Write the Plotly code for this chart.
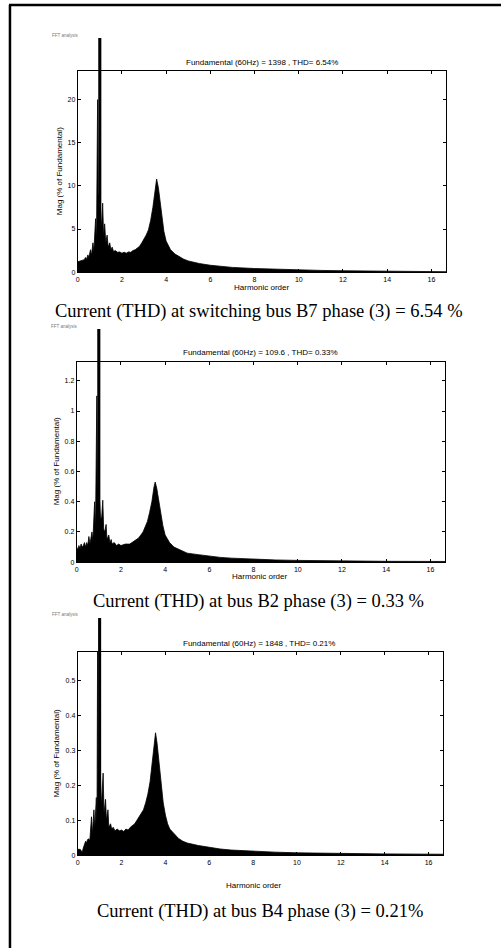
import plotly.graph_objects as go

W, H = 501, 951

# ---------------- data ----------------
harm_1 = [0.0, 0.1, 0.2, 0.3, 0.35, 0.4, 0.46, 0.5, 0.58, 0.62, 0.69, 0.73, 0.81, 0.85, 0.9, 0.93, 1.0, 1.08, 1.13, 1.17,
          1.22, 1.27, 1.33, 1.38, 1.45, 1.5, 1.56, 1.62, 1.7, 1.8, 1.9, 2.0, 2.1, 2.2, 2.3, 2.4, 2.5, 2.6, 2.7, 2.8,
          2.9, 3.0, 3.1, 3.2, 3.3, 3.4, 3.5, 3.57, 3.65, 3.7, 3.8, 3.9, 4.0, 4.1, 4.2, 4.4, 4.6, 4.8, 5.0, 5.5,
          6.0, 6.5, 7.0, 8.0, 9.0, 10.0, 11.0, 12.0, 13.0, 14.0, 15.0, 16.67]
mag_1 = [1.2, 1.3, 1.35, 1.45, 1.7, 1.5, 2.0, 1.7, 2.6, 1.9, 3.4, 2.4, 6.2, 3.6, 20.0, 9.0, 9.0, 5.0, 8.0, 4.2,
         5.6, 3.4, 4.3, 2.9, 3.4, 2.6, 2.9, 2.4, 2.5, 2.3, 2.35, 2.2, 2.3, 2.2, 2.35, 2.3, 2.5, 2.6, 2.8, 3.0,
         3.4, 3.8, 4.3, 4.9, 6.0, 7.5, 9.5, 10.8, 9.8, 8.8, 6.5, 4.7, 3.6, 3.0, 2.6, 2.1, 1.8, 1.5, 1.3, 1.0,
         0.8, 0.65, 0.55, 0.42, 0.32, 0.26, 0.2, 0.16, 0.12, 0.09, 0.07, 0.05]

harm_2 = [0.0, 0.05, 0.1, 0.15, 0.2, 0.25, 0.3, 0.35, 0.4, 0.45, 0.5, 0.55, 0.6, 0.69, 0.73, 0.81, 0.85, 0.91, 0.94, 1.0,
          1.08, 1.13, 1.18, 1.22, 1.27, 1.33, 1.37, 1.45, 1.5, 1.56, 1.6, 1.7, 1.8, 1.9, 2.0, 2.2, 2.4, 2.6, 2.8, 3.0,
          3.2, 3.3, 3.4, 3.5, 3.55, 3.62, 3.7, 3.8, 3.9, 4.0, 4.1, 4.2, 4.4, 4.6, 4.8, 5.0, 5.5, 6.0, 6.5, 7.0,
          8.0, 9.0, 10.0, 11.0, 12.0, 14.0, 16.67]
mag_2 = [0.10, 0.08, 0.11, 0.09, 0.12, 0.10, 0.11, 0.13, 0.10, 0.13, 0.11, 0.17, 0.12, 0.20, 0.14, 0.40, 0.22, 1.10, 0.50, 0.50,
         0.28, 0.30, 0.41, 0.22, 0.20, 0.25, 0.15, 0.18, 0.13, 0.15, 0.12, 0.13, 0.11, 0.12, 0.11, 0.12, 0.12, 0.14, 0.16, 0.20,
         0.27, 0.33, 0.40, 0.50, 0.53, 0.49, 0.42, 0.31, 0.24, 0.18, 0.15, 0.13, 0.10, 0.085, 0.07, 0.06, 0.05, 0.04, 0.032, 0.027,
         0.02, 0.015, 0.012, 0.01, 0.008, 0.006, 0.005]

harm_3 = [0.0, 0.05, 0.1, 0.15, 0.21, 0.25, 0.3, 0.36, 0.4, 0.45, 0.51, 0.55, 0.63, 0.67, 0.74, 0.78, 0.85, 0.88, 0.91, 0.94,
          1.0, 1.08, 1.16, 1.2, 1.27, 1.31, 1.38, 1.42, 1.5, 1.55, 1.62, 1.7, 1.8, 1.9, 2.0, 2.1, 2.2, 2.3, 2.4, 2.5,
          2.6, 2.7, 2.8, 2.9, 3.0, 3.1, 3.2, 3.3, 3.4, 3.5, 3.55, 3.62, 3.7, 3.8, 3.9, 4.0, 4.1, 4.2, 4.4, 4.6,
          4.8, 5.0, 5.5, 6.0, 6.5, 7.0, 8.0, 9.0, 10.0, 11.0, 12.0, 14.0, 16.67]
mag_3 = [0.02, 0.015, 0.018, 0.015, 0.009, 0.02, 0.03, 0.04, 0.035, 0.045, 0.047, 0.04, 0.11, 0.06, 0.13, 0.08, 0.165, 0.10, 0.64, 0.25,
         0.30, 0.14, 0.235, 0.12, 0.16, 0.10, 0.13, 0.08, 0.09, 0.075, 0.08, 0.07, 0.075, 0.07, 0.072, 0.068, 0.075, 0.072, 0.08, 0.085,
         0.09, 0.10, 0.11, 0.12, 0.13, 0.15, 0.175, 0.21, 0.26, 0.32, 0.35, 0.32, 0.27, 0.20, 0.15, 0.115, 0.09, 0.075, 0.06, 0.048,
         0.04, 0.035, 0.028, 0.022, 0.018, 0.015, 0.011, 0.009, 0.007, 0.006, 0.005, 0.004, 0.003]

fundamental_order = [1.0]
fundamental_mag = [100.0]

x_ticks = [0, 2, 4, 6, 8, 10, 12, 14, 16]
y_ticks_1 = [0, 5, 10, 15, 20]
y_ticks_2 = [0, 0.2, 0.4, 0.6, 0.8, 1, 1.2]
y_ticks_3 = [0, 0.1, 0.2, 0.3, 0.4, 0.5]

titles = ["Fundamental (60Hz) = 1398 , THD= 6.54%",
          "Fundamental (60Hz) = 109.6 , THD= 0.33%",
          "Fundamental (60Hz) = 1848 , THD= 0.21%"]
captions = ["Current (THD) at switching bus B7 phase (3) = 6.54 %",
            "Current (THD) at bus B2 phase (3) = 0.33 %",
            "Current (THD) at bus B4 phase (3) = 0.21%"]
x_max = 16.67
y_max = [23.35, 1.325, 0.581]

# ---------------- layout geometry (pixels) ----------------
panels = [
    dict(x=harm_1, y=mag_1, yt=y_ticks_1, box=(76, 446, 71, 273), spike_top=38,
         title_xy=(261, 63), xlab_xy=(261, 288), ylab_xy=(58, 172), cap_xy=(258, 312), fft_xy=(48, 36)),
    dict(x=harm_2, y=mag_2, yt=y_ticks_2, box=(75, 445, 363, 564), spike_top=330,
         title_xy=(260, 354), xlab_xy=(259, 578), ylab_xy=(55, 463), cap_xy=(258, 603), fft_xy=(47, 328)),
    dict(x=harm_3, y=mag_3, yt=y_ticks_3, box=(76, 443, 654, 858), spike_top=620,
         title_xy=(258, 646), xlab_xy=(253, 888), ylab_xy=(55, 756), cap_xy=(259, 914), fft_xy=(48, 616)),
]


def px(x):
    return x / W


def py(y):
    return 1 - y / H


fig = go.Figure()
layout = dict(width=W, height=H, margin=dict(l=0, r=0, t=0, b=0),
              paper_bgcolor="white", plot_bgcolor="rgba(0,0,0,0)",
              showlegend=False, annotations=[], shapes=[])

tickfont = dict(family="Liberation Sans, Arial", size=7, color="black")
labfont = dict(family="Liberation Sans, Arial", size=8, color="black")

for i, p in enumerate(panels):
    a = 2 * i + 1
    b = 2 * i + 2
    l, r, t, bt = p["box"]
    xd = [px(l), px(r)]
    yd = [py(bt), py(t)]
    yd_tall = [py(bt), py(p["spike_top"])]
    ymax_tall = y_max[i] * (bt - p["spike_top"]) / (bt - t)

    xa = "xaxis" if a == 1 else f"xaxis{a}"
    ya = "yaxis" if a == 1 else f"yaxis{a}"
    xb = f"xaxis{b}"
    yb = f"yaxis{b}"
    xr = "x" if a == 1 else f"x{a}"
    yr = "y" if a == 1 else f"y{a}"

    # spectrum as filled area
    fig.add_trace(go.Scatter(x=p["x"], y=p["y"], mode="lines", fill="tozeroy",
                             line=dict(color="black", width=0.8), fillcolor="black",
                             xaxis=xr, yaxis=yr, hoverinfo="skip"))
    # fundamental bar on a taller companion axis with identical scale
    fig.add_trace(go.Bar(x=fundamental_order, y=fundamental_mag, width=0.14,
                         marker=dict(color="black", line=dict(width=0)),
                         xaxis=f"x{b}", yaxis=f"y{b}", hoverinfo="skip"))

    layout[xa] = dict(domain=xd, range=[0, x_max], anchor=yr, tickvals=x_ticks,
                      ticks="inside", ticklen=3, tickwidth=0.8, tickcolor="black",
                      showline=True, linecolor="black", linewidth=1, mirror="ticks",
                      showgrid=False, zeroline=False, tickfont=tickfont, fixedrange=True)
    layout[ya] = dict(domain=yd, range=[0, y_max[i]], anchor=xr, tickvals=p["yt"],
                      ticks="inside", ticklen=3, tickwidth=0.8, tickcolor="black",
                      showline=True, linecolor="black", linewidth=1, mirror="ticks",
                      showgrid=False, zeroline=False, tickfont=tickfont, fixedrange=True)
    layout[xb] = dict(domain=xd, range=[0, x_max], anchor=f"y{b}", visible=False, fixedrange=True)
    layout[yb] = dict(domain=yd_tall, range=[0, ymax_tall], anchor=f"x{b}", visible=False, fixedrange=True)

    ann = layout["annotations"]
    ann.append(dict(text=titles[i], x=px(p["title_xy"][0]), y=py(p["title_xy"][1]), xref="paper", yref="paper",
                    showarrow=False, xanchor="center", yanchor="middle", font=labfont))
    ann.append(dict(text="Harmonic order", x=px(p["xlab_xy"][0]), y=py(p["xlab_xy"][1]), xref="paper", yref="paper",
                    showarrow=False, xanchor="center", yanchor="middle", font=labfont))
    ann.append(dict(text="Mag (% of Fundamental)", x=px(p["ylab_xy"][0]), y=py(p["ylab_xy"][1]), xref="paper",
                    yref="paper", showarrow=False, xanchor="center", yanchor="middle", textangle=-90, font=labfont))
    ann.append(dict(text=captions[i], x=px(p["cap_xy"][0]), y=py(p["cap_xy"][1]), xref="paper", yref="paper",
                    showarrow=False, xanchor="center", yanchor="middle",
                    font=dict(family="Liberation Serif, Times New Roman", size=18.5, color="black")))
    ann.append(dict(text="FFT analysis", x=px(p["fft_xy"][0]), y=py(p["fft_xy"][1]), xref="paper", yref="paper",
                    showarrow=False, xanchor="left", yanchor="middle",
                    font=dict(family="Liberation Sans, Arial", size=4.5, color="#777777")))

# outer frame (top and left edges)
layout["shapes"].append(dict(type="line", xref="paper", yref="paper", x0=px(8), x1=px(8), y0=0, y1=py(5),
                             line=dict(color="black", width=2.5)))
layout["shapes"].append(dict(type="line", xref="paper", yref="paper", x0=px(7), x1=1, y0=py(5), y1=py(5),
                             line=dict(color="black", width=2.5)))

fig.update_layout(**layout)
fig.write_html("out.html")
